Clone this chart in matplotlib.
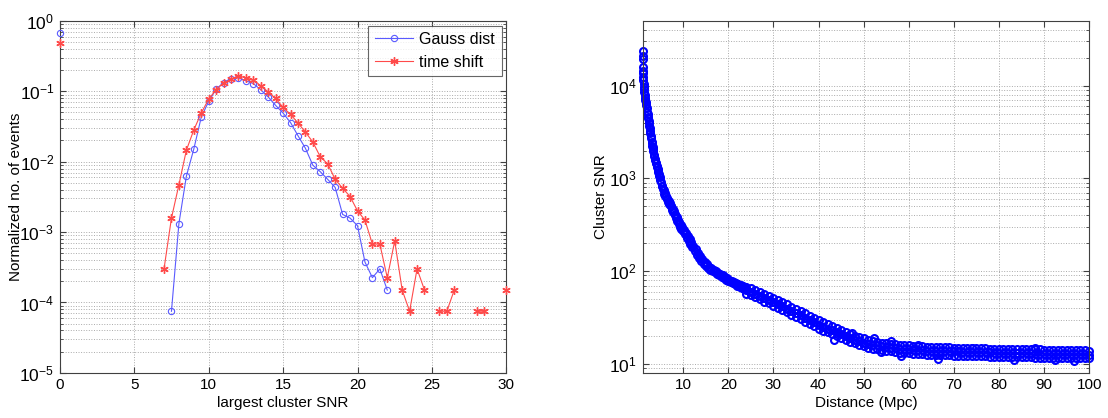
import numpy as np
import matplotlib
matplotlib.use("Agg")
import matplotlib.pyplot as plt
from matplotlib.ticker import LogLocator, FixedLocator, NullFormatter

plt.rcParams['font.family'] = ['Liberation Sans', 'DejaVu Sans']
plt.rcParams['mathtext.fontset'] = 'custom'
plt.rcParams['mathtext.rm'] = 'Liberation Sans'
plt.rcParams['mathtext.it'] = 'Liberation Sans:italic'

nan = np.nan

# left panel: histogram of largest cluster SNR (bin centres 0..30, step 0.5)
snr_bins = [0.0, 0.5, 1.0, 1.5, 2.0, 2.5, 3.0, 3.5, 4.0, 4.5, 5.0, 5.5, 6.0, 6.5,
            7.0, 7.5, 8.0, 8.5, 9.0, 9.5, 10.0, 10.5, 11.0, 11.5, 12.0, 12.5,
            13.0, 13.5, 14.0, 14.5, 15.0, 15.5, 16.0, 16.5, 17.0, 17.5, 18.0,
            18.5, 19.0, 19.5, 20.0, 20.5, 21.0, 21.5, 22.0, 22.5, 23.0, 23.5,
            24.0, 24.5, 25.0, 25.5, 26.0, 26.5, 27.0, 27.5, 28.0, 28.5, 29.0,
            29.5, 30.0]

gauss_frac = ([0.675] + [nan] * 14 +
              [7.5e-5, 1.32e-3, 6.2e-3, 0.0151, 0.0427, 0.072, 0.107, 0.133,
               0.151, 0.155, 0.141, 0.129, 0.105, 0.083, 0.063, 0.049, 0.036,
               0.0234, 0.0155, 0.0089, 0.0072, 0.0056, 0.0043, 0.00178,
               0.00158, 0.00123, 0.000375, 0.000225, 0.0003, 0.00015] +
              [nan] * 16)

shift_frac = ([0.49] + [nan] * 13 +
              [3.0e-4, 1.58e-3, 4.7e-3, 0.0145, 0.0282, 0.049, 0.0776, 0.105,
               0.132, 0.148, 0.166, 0.155, 0.145, 0.120, 0.098, 0.079, 0.059,
               0.047, 0.0355, 0.0263, 0.019, 0.0117, 0.0093, 0.0056, 0.0042,
               0.0032, 0.0020, 0.00148, 0.000675, 0.000675, 0.000225, 0.00075,
               0.00015, 7.5e-5, 0.0003, 0.00015] +
              [nan, 7.5e-5, 7.5e-5, 0.00015, nan, nan, 7.5e-5, 7.5e-5, nan, nan,
               0.00015])

# right panel: cluster SNR vs distance
near_dist = [1.0, 1.0, 1.03, 1.08, 1.15, 1.25, 1.4, 1.55, 1.7, 1.85, 2.0, 2.15,
             2.3, 2.5, 2.65, 2.8, 3.0, 3.15, 3.3, 3.5, 3.7, 3.9, 4.1, 4.3, 4.5,
             4.7, 4.9, 5.2, 5.5, 5.8, 6.0, 6.3, 6.6, 6.9, 7.2, 7.5, 7.8, 8.1,
             8.4, 8.7, 9.0, 9.3, 9.6, 10.0, 10.4, 10.8, 11.2, 11.6, 12.0, 12.5,
             13.0, 13.5, 14.0, 14.5, 15.0, 15.5, 16.0, 16.5, 17.0, 17.5, 18.0,
             18.5, 19.0, 19.5, 20.0, 20.5, 21.0, 21.5, 22.0, 22.5, 23.0, 23.5]
near_snr = [23500, 19500, 16000, 13700, 11600, 9800, 8500, 7400, 6600, 6200,
            5200, 4600, 4200, 3700, 3250, 2900, 2500, 2250, 2060, 1800, 1620,
            1480, 1350, 1250, 1170, 1050, 950, 830, 760, 680, 640, 600, 560,
            530, 500, 460, 430, 400, 375, 350, 320, 300, 285, 270, 250, 230,
            210, 195, 180, 165, 150, 140, 128, 120, 113, 108, 104, 100, 97, 94,
            90, 87, 84, 81, 78, 76, 74, 72, 70, 68, 66, 64]

near_dist_b = [1.02, 1.06, 1.12, 1.2, 1.33, 1.48, 1.62, 1.78, 1.93, 2.08, 2.22,
               2.4, 2.58, 2.72, 2.9, 3.08, 3.22, 3.4, 3.6, 3.8, 4.0, 4.2, 4.4,
               4.6, 4.8, 5.05, 5.35, 5.65, 5.9, 6.15, 6.45, 6.75, 7.05, 7.35,
               7.65, 7.95, 8.25, 8.55, 8.85, 9.15, 9.45, 9.8, 10.2, 10.6, 11.0,
               11.4, 11.8, 12.25, 12.75, 13.25, 13.75, 14.25, 14.75, 15.25,
               15.75, 16.25, 16.75, 17.25, 17.75, 18.25, 18.75, 19.25, 19.75,
               20.25, 20.75, 21.25, 21.75, 22.25, 22.75, 23.25, 23.75]
near_snr_b = [21000, 14500, 12500, 10500, 9300, 8000, 7000, 6400, 5700, 5000,
              4500, 4000, 3500, 3100, 2750, 2420, 2200, 1960, 1740, 1580, 1450,
              1330, 1230, 1130, 1030, 920, 830, 750, 700, 650, 610, 570, 540,
              500, 470, 440, 410, 385, 360, 335, 315, 300, 280, 258, 238, 220,
              205, 188, 172, 158, 146, 135, 126, 118, 112, 107, 103, 100, 96,
              93, 90, 87, 84, 81, 79, 77, 75, 73, 71, 69, 67]

far_dist = [24, 25, 26, 27, 28, 29, 30, 31, 32, 33, 34, 35, 36, 37, 38, 39, 40,
            41, 42, 43, 44, 45, 46, 47, 48, 49, 50, 51, 52, 53, 54, 55, 56, 57,
            58, 59, 60, 61, 62, 63, 64, 65, 66, 67, 68, 69, 70, 71, 72, 73, 74,
            75, 76, 77, 78, 79, 80, 81, 82, 83, 84, 85, 86, 87, 88, 89, 90, 91,
            92, 93, 94, 95, 96, 97, 98, 99, 100]
far_mid = [62, 60, 57, 54, 51, 49, 46, 44, 42, 39.5, 37.5, 35.5, 33.5, 31.5,
           29.5, 28, 26.5, 25, 24, 23, 22, 21, 20, 19, 18.3, 17.6, 17, 16.5,
           16.1, 15.8, 15.5, 15.2, 15, 14.8, 14.6, 14.4, 14.3, 14.2, 14.1, 14,
           13.9, 13.9, 13.8, 13.8, 13.7, 13.7, 13.6, 13.6, 13.5, 13.5, 13.4,
           13.4, 13.3, 13.3, 13.3, 13.2, 13.2, 13.2, 13.1, 13.1, 13.1, 13.0,
           13.0, 13.0, 12.9, 12.9, 12.9, 12.9, 12.8, 12.8, 12.8, 12.8, 12.7,
           12.7, 12.7, 12.7, 12.6]
far_hi = [68, 66, 63, 60, 57, 54, 51, 49, 46, 44, 41.5, 39, 37, 35, 33, 31,
          29.5, 28, 27, 25.5, 24.5, 23, 22, 21, 20, 19.5, 18.8, 18.2, 17.8, 17.4,
          17, 16.8, 16.5, 16.3, 16, 15.9, 15.8, 15.6, 15.5, 15.4, 15.3, 15.3,
          15.2, 15.2, 15.1, 15.1, 15, 15, 14.9, 14.9, 14.8, 14.8, 14.7, 14.7,
          14.6, 14.6, 14.6, 14.5, 14.5, 14.5, 14.4, 14.4, 14.4, 14.3, 14.3,
          14.3, 14.2, 14.2, 14.2, 14.1, 14.1, 14.1, 14, 14, 14, 14, 13.9]
far_lo = [57, 55, 52, 49.5, 47, 45, 42, 40, 38, 36, 34, 32, 30.5, 28.5, 27,
          25.5, 24, 22.8, 21.8, 20.8, 20, 19, 18.2, 17.4, 16.6, 16, 15.4, 15,
          14.6, 14.3, 14, 13.8, 13.6, 13.4, 13.2, 13.1, 13, 12.9, 12.8, 12.7,
          12.6, 12.6, 12.5, 12.5, 12.4, 12.4, 12.3, 12.3, 12.2, 12.2, 12.2,
          12.1, 12.1, 12.1, 12, 12, 12, 11.9, 11.9, 11.9, 11.8, 11.8, 11.8,
          11.8, 11.7, 11.7, 11.7, 11.7, 11.6, 11.6, 11.6, 11.6, 11.5, 11.5,
          11.5, 11.5, 11.5]

outlier_dist = [43.4, 47.5, 52.2, 53.8, 56.0, 58.2, 62.0, 66.5, 74.0, 83.3,
                88.0, 92.5, 96.7]
outlier_snr = [18.0, 21.5, 18.9, 13.5, 17.6, 12.1, 16.0, 11.4, 15.0, 11.0,
               14.9, 11.1, 10.8]

fig = plt.figure(figsize=(11.08, 4.18), dpi=100)
ax1 = fig.add_axes([0.054, 0.108, 0.403, 0.842])
ax2 = fig.add_axes([0.580, 0.108, 0.403, 0.842])

ax1.plot(snr_bins, gauss_frac, color='#5a5aff', lw=0.8, marker='o', ms=4.5,
         mfc='none', mew=0.8, label='Gauss dist', clip_on=False, zorder=3)
ax1.plot(snr_bins, shift_frac, color='#ff4a4a', lw=0.8, marker=(6, 2, 0),
         ms=6, mew=1.0, label='time shift', clip_on=False, zorder=3)
ax1.set_yscale('log')
ax1.set_xlim(0, 30)
ax1.set_ylim(1e-5, 1)
ax1.xaxis.set_major_locator(FixedLocator([0, 5, 10, 15, 20, 25, 30]))
ax1.set_xlabel('largest cluster SNR', fontsize=11, labelpad=3)
ax1.set_ylabel('Normalized no. of events', fontsize=11)
ax1.yaxis.set_label_coords(-0.083, 0.5)
leg = ax1.legend(loc='upper right', fontsize=11.5, frameon=True, fancybox=False,
                 borderaxespad=0.3, handlelength=2.4, handletextpad=0.4,
                 borderpad=0.4, labelspacing=0.5)
leg.get_frame().set_edgecolor('#404040')
leg.get_frame().set_linewidth(0.8)

dot = dict(ls='none', marker='o', ms=5, mfc='none', mec='#0000ff', mew=1.5,
           clip_on=False)
ax2.plot(far_dist, far_lo, **dot)
ax2.plot(far_dist, far_hi, **dot)
ax2.plot(far_dist, far_mid, **dot)
ax2.plot(near_dist, near_snr, **dot)
ax2.plot(near_dist_b, near_snr_b, **dot)
ax2.plot(outlier_dist, outlier_snr, **dot)
ax2.set_yscale('log')
ax2.set_xlim(1, 100)
ax2.set_ylim(8, 5e4)
ax2.xaxis.set_major_locator(FixedLocator([10, 20, 30, 40, 50, 60, 70, 80, 90, 100]))
ax2.set_xlabel('Distance (Mpc)', fontsize=11, labelpad=3)
ax2.set_ylabel('Cluster SNR', fontsize=11)
ax2.yaxis.set_label_coords(-0.078, 0.5)

for ax in (ax1, ax2):
    ax.yaxis.set_major_locator(LogLocator(base=10, numticks=10))
    ax.yaxis.set_minor_locator(LogLocator(base=10, subs=np.arange(2, 10), numticks=10))
    ax.yaxis.set_minor_formatter(NullFormatter())
    ax.grid(True, which='major', ls=':', lw=0.7, color='#aaaaaa')
    ax.grid(True, which='minor', axis='y', ls=':', lw=0.7, color='#aaaaaa')
    ax.set_axisbelow(True)
    ax.tick_params(which='both', direction='in', top=True, right=True,
                   labelsize=11, color='#404040')
    ax.tick_params(axis='y', which='major', labelsize=12.5, pad=4)
    ax.tick_params(which='major', length=4)
    ax.tick_params(which='minor', length=2)
    for sp in ax.spines.values():
        sp.set_color('#404040')
        sp.set_linewidth(0.8)

fig.savefig('out.png', dpi=100)
